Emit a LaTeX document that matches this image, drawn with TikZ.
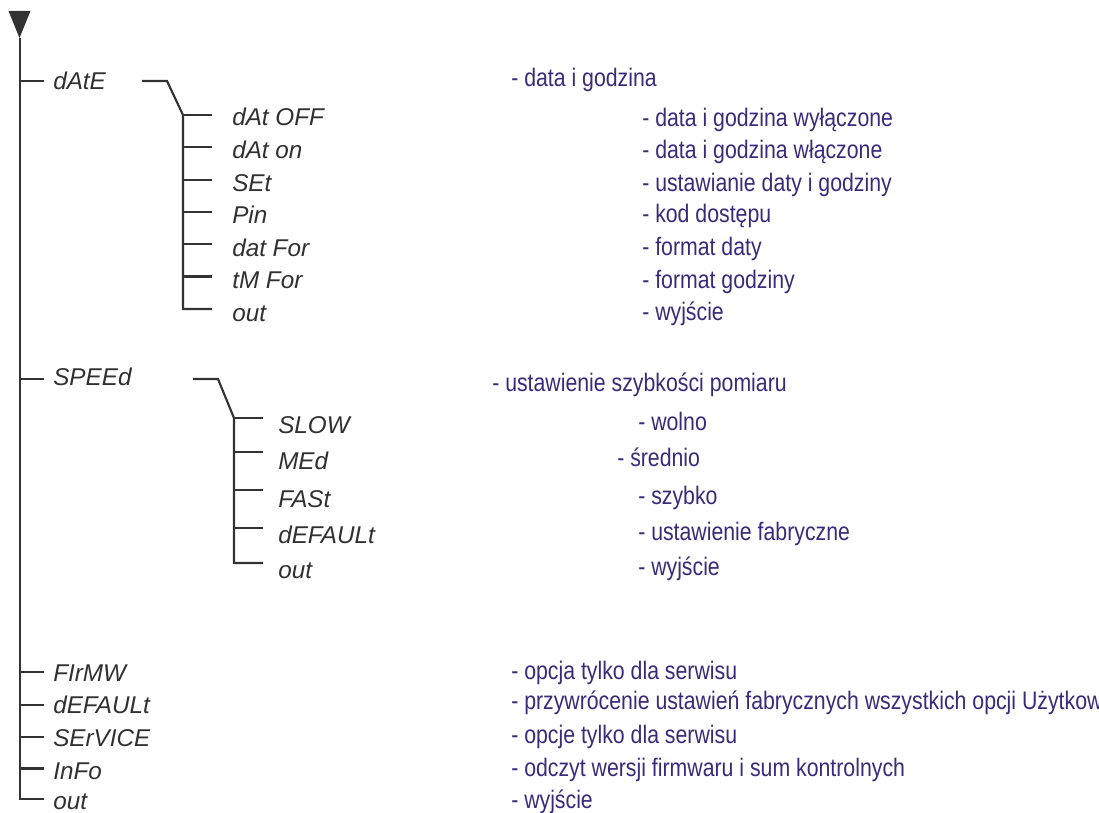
\documentclass[tikz,border=0pt]{standalone}
\usepackage{fontspec}
\setmainfont{Liberation Sans}
\newfontfamily\lblfont{Liberation Sans}
\newfontfamily\descfont[FakeStretch=0.84]{Liberation Sans}
\definecolor{linegray}{HTML}{333333}
\definecolor{lblgray}{HTML}{303030}
\definecolor{desccol}{HTML}{3B2A7A}
\tikzset{
  lbl/.style={anchor=base west, inner sep=0pt, font=\lblfont\itshape\fontsize{18.2}{21}\selectfont, text=lblgray},
  dsc/.style={anchor=base west, inner sep=0pt, font=\descfont\fontsize{19}{22}\selectfont, text=desccol},
  wire/.style={draw=linegray, line width=1.6pt},
}
\begin{document}
\begin{tikzpicture}[x=0.75pt,y=-0.75pt]
\useasboundingbox (0,0) rectangle (1099,813);
\clip (0,0) rectangle (1099,813);
% spine
\coordinate (top) at (19.5,38);
\coordinate (bot) at (20,799);
\fill[linegray] (8.5,11) -- (30.5,11) -- (top) -- cycle;
% main ticks coordinates
\coordinate (m1) at (20,81);   \coordinate (m1e) at (44,81);
\coordinate (m2) at (20,379);  \coordinate (m2e) at (44,379);
\coordinate (m3) at (20,672);  \coordinate (m3e) at (44,672);
\coordinate (m4) at (20,705);  \coordinate (m4e) at (44,705);
\coordinate (m5) at (20,737);  \coordinate (m5e) at (44,737);
\coordinate (m6) at (20,768.5);\coordinate (m6e) at (44,768.5);
\coordinate (bote) at (44,799);
\draw[wire] (20,38) -- (bot) -- (bote);
\foreach \i in {1,...,6} \draw[wire] (m\i) -- (m\i e);

% main labels
\node[lbl] (date) at (53,90) {dAtE};
\node[lbl] (speed) at (53,385) {SPEEd};
\node[lbl] (firmw) at (53,681.5) {FIrMW};
\node[lbl] (dflt) at (53,713.5) {dEFAULt};
\node[lbl] (service) at (53,746.5) {SErVICE};
\node[lbl] (info) at (53,779.5) {InFo};
\node[lbl] (mout) at (53,809) {out};

% dAtE sub-branch
\coordinate (da) at (142,81);
\coordinate (db) at (167,81);
\coordinate (d1) at (183,115);   \coordinate (d1e) at (212,115);
\coordinate (d2) at (183,147.3); \coordinate (d2e) at (212,147.3);
\coordinate (d3) at (183,179.6); \coordinate (d3e) at (212,179.6);
\coordinate (d4) at (183,212);   \coordinate (d4e) at (212,212);
\coordinate (d5) at (183,244);   \coordinate (d5e) at (212,244);
\coordinate (d6) at (183,276.5); \coordinate (d6e) at (212,276.5);
\coordinate (d7) at (183,309);   \coordinate (d7e) at (212,309);
\draw[wire] (da) -- (db) -- (d1) -- (d7) -- (d7e);
\foreach \i in {1,...,6} \draw[wire] (d\i) -- (d\i e);
\node[lbl] (doff) at (232,126) {dAt OFF};
\node[lbl] (don) at (232,158.5) {dAt on};
\node[lbl] (dset) at (232,191) {SEt};
\node[lbl] (dpin) at (232,223.5) {Pin};
\node[lbl] (dfor) at (232,256) {dat For};
\node[lbl] (tfor) at (232,288.5) {tM For};
\node[lbl] (dout) at (232,321) {out};

% SPEEd sub-branch
\coordinate (sa) at (193,379);
\coordinate (sb) at (218,379);
\coordinate (s1) at (234,418); \coordinate (s1e) at (263,418);
\coordinate (s2) at (234,452); \coordinate (s2e) at (263,452);
\coordinate (s3) at (234,490); \coordinate (s3e) at (263,490);
\coordinate (s4) at (234,528); \coordinate (s4e) at (263,528);
\coordinate (s5) at (234,563); \coordinate (s5e) at (263,563);
\draw[wire] (sa) -- (sb) -- (s1) -- (s5) -- (s5e);
\foreach \i in {1,...,4} \draw[wire] (s\i) -- (s\i e);
\node[lbl] (slow) at (278,433) {SLOW};
\node[lbl] (med) at (278,469) {MEd};
\node[lbl] (fast) at (278,507) {FASt};
\node[lbl] (sdef) at (278,543) {dEFAULt};
\node[lbl] (sout) at (278,578) {out};

% descriptions
\node[dsc] (ddate) at (511,87) {- data i godzina};
\node[dsc] (ddoff) at (642,126.5) {- data i godzina wyłączone};
\node[dsc] (ddon) at (642,158.5) {- data i godzina włączone};
\node[dsc] (ddset) at (642,191) {- ustawianie daty i godziny};
\node[dsc] (ddpin) at (642,223) {- kod dostępu};
\node[dsc] (ddfor) at (642,255.5) {- format daty};
\node[dsc] (dtfor) at (642,288) {- format godziny};
\node[dsc] (ddout) at (642,320.5) {- wyjście};

\node[dsc] (dspeed) at (492,391.5) {- ustawienie szybkości pomiaru};
\node[dsc] (dslow) at (638,430) {- wolno};
\node[dsc] (dmed) at (617,466) {- średnio};
\node[dsc] (dfast) at (638,504) {- szybko};
\node[dsc] (dsdef) at (638,540) {- ustawienie fabryczne};
\node[dsc] (dsout) at (638,575) {- wyjście};

\node[dsc] (dfirmw) at (511,679) {- opcja tylko dla serwisu};
\node[dsc] (ddflt) at (511,709) {- przywrócenie ustawień fabrycznych wszystkich opcji Użytkow};
\node[dsc] (dservice) at (511,743) {- opcje tylko dla serwisu};
\node[dsc] (dinfo) at (511,776) {- odczyt wersji firmwaru i sum kontrolnych};
\node[dsc] (dmout) at (511,808) {- wyjście};
\end{tikzpicture}
\end{document}
